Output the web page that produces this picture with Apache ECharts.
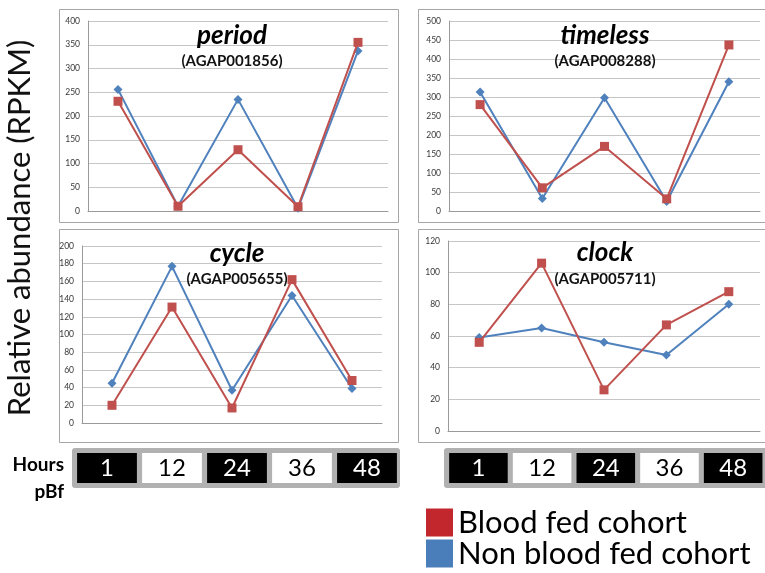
<!DOCTYPE html>
<html><head><meta charset="utf-8">
<script src="https://cdn.jsdelivr.net/npm/echarts@6/dist/echarts.min.js"></script>
<style>html,body{margin:0;padding:0;background:#fff}#c{width:765px;height:573px}</style>
</head><body><div id="c"></div>
<script>
// ---- data ----
const hours = ['1', '12', '24', '36', '48'];
const genes = ['period', 'timeless', 'cycle', 'clock'];
const geneIds = ['(AGAP001856)', '(AGAP008288)', '(AGAP005655)', '(AGAP005711)'];
const yMax = [400, 500, 200, 120];
const yStep = [50, 50, 20, 20];
const bloodFed_period = [231, 10, 129, 9, 355];
const nonFed_period = [256, 10, 235, 6, 337];
const bloodFed_timeless = [280, 61, 170, 32, 437];
const nonFed_timeless = [313, 33, 298, 25, 340];
const bloodFed_cycle = [20, 131, 17, 162, 48];
const nonFed_cycle = [45, 177, 37, 144, 39];
const bloodFed_clock = [56, 106, 26, 67, 88];
const nonFed_clock = [59, 65, 56, 48, 80];
const seriesNames = ['Blood fed cohort', 'Non blood fed cohort'];

const bloodFed = [bloodFed_period, bloodFed_timeless, bloodFed_cycle, bloodFed_clock];
const nonFed = [nonFed_period, nonFed_timeless, nonFed_cycle, nonFed_clock];

// ---- layout ----
const FONT = 'Lato';
const RED = '#c0504d', BLUE = '#4f81bd';
const plotGrids = [
  {left: 88, top: 21, width: 300, height: 190},
  {left: 449, top: 21, width: 311, height: 190},
  {left: 82, top: 246, width: 300, height: 177},
  {left: 448, top: 241, width: 312, height: 190}
];
const panels = [
  {x: 59.5, y: 9.5, w: 339, h: 213},
  {x: 418.5, y: 9.5, w: 360, h: 213},
  {x: 59.5, y: 229.5, w: 339, h: 213},
  {x: 418.5, y: 229.5, w: 360, h: 213}
];
const titlePos = [
  {x: 232, y1: 36, y2: 61},
  {x: 605, y1: 36, y2: 61},
  {x: 237, y1: 254, y2: 279},
  {x: 605, y1: 253, y2: 279}
];
const hourGrids = [
  {left: 74.5, top: 453, width: 325, height: 30},
  {left: 446.6, top: 453, width: 324, height: 30}
];
const hourBack = [
  {x: 72, y: 448, w: 328, h: 40},
  {x: 444, y: 448, w: 330, h: 40}
];

const grid = [], xAxis = [], yAxis = [], series = [], graphic = [];

genes.forEach((g, i) => {
  grid.push(plotGrids[i]);
  xAxis.push({
    type: 'category', gridIndex: i, data: hours, boundaryGap: true,
    axisLabel: {show: false}, axisTick: {show: false},
    axisLine: {lineStyle: {color: '#9a9a9a', width: 1}}
  });
  yAxis.push({
    type: 'value', gridIndex: i, min: 0, max: yMax[i], interval: yStep[i],
    axisLine: {show: true, lineStyle: {color: '#9a9a9a', width: 1}},
    axisTick: {show: false},
    axisLabel: {fontSize: 8.5, color: '#383838', fontFamily: FONT, margin: 8},
    splitLine: {lineStyle: {color: '#c6c6c6', width: 1}}
  });
  series.push({
    type: 'line', name: seriesNames[1], xAxisIndex: i, yAxisIndex: i,
    data: nonFed[i], symbol: 'diamond', symbolSize: 9,
    lineStyle: {color: BLUE, width: 2}, itemStyle: {color: BLUE},
    z: 2, animation: false
  });
  series.push({
    type: 'line', name: seriesNames[0], xAxisIndex: i, yAxisIndex: i,
    data: bloodFed[i], symbol: 'rect', symbolSize: 9,
    lineStyle: {color: RED, width: 2}, itemStyle: {color: RED},
    z: 3, animation: false
  });
  const p = panels[i];
  graphic.push({type: 'rect', shape: {x: p.x, y: p.y, width: p.w, height: p.h},
    style: {fill: 'none', stroke: '#a6a6a6', lineWidth: 1}, silent: true, z: 0});
  const t = titlePos[i];
  graphic.push({type: 'text', x: t.x, y: t.y1, z: 10,
    style: {text: g, fill: '#000', font: 'italic bold 26px ' + FONT, textAlign: 'center', textVerticalAlign: 'middle'}});
  graphic.push({type: 'text', x: t.x, y: t.y2, z: 10,
    style: {text: geneIds[i], fill: '#111', font: 'bold 15px ' + FONT, textAlign: 'center', textVerticalAlign: 'middle'}});
});

// hour bars
hourGrids.forEach((hg, k) => {
  const gi = grid.length;
  grid.push(hg);
  xAxis.push({type: 'category', gridIndex: gi, data: hours, show: false});
  yAxis.push({type: 'value', gridIndex: gi, min: 0, max: 1, show: false});
  series.push({
    type: 'bar', xAxisIndex: gi, yAxisIndex: gi, barCategoryGap: '8%', animation: false, silent: true,
    data: hours.map((h, j) => ({
      value: 1,
      itemStyle: {color: j % 2 ? '#ffffff' : '#000000'},
      label: {color: j % 2 ? '#000000' : '#ffffff'}
    })),
    label: {show: true, position: 'inside', fontSize: 24, fontFamily: FONT, formatter: (p) => hours[p.dataIndex]}
  });
  const b = hourBack[k];
  graphic.push({type: 'rect', shape: {x: b.x, y: b.y, width: b.w, height: b.h, r: 3},
    style: {fill: '#b1b1b1'}, silent: true, z: 0});
});

graphic.push({type: 'text', x: 64, y: 465, style: {text: 'Hours', font: 'bold 19px ' + FONT, fill: '#000', textAlign: 'right', textVerticalAlign: 'middle'}});
graphic.push({type: 'text', x: 64, y: 492, style: {text: 'pBf', font: 'bold 19px ' + FONT, fill: '#000', textAlign: 'right', textVerticalAlign: 'middle'}});
graphic.push({type: 'text', x: 20, y: 228, rotation: Math.PI / 2,
  style: {text: 'Relative abundance (RPKM)', font: '31px ' + FONT, fill: '#111', textAlign: 'center', textVerticalAlign: 'middle'}});

const chart = echarts.init(document.getElementById('c'), null, {renderer: 'canvas'});
chart.setOption({
  animation: false,
  backgroundColor: '#fff',
  grid, xAxis, yAxis, series, graphic,
  legend: {
    orient: 'vertical', left: 426, top: 507, itemWidth: 27, itemHeight: 28, itemGap: 0, padding: 0,
    textStyle: {fontSize: 31, color: '#000', fontFamily: FONT},
    selectedMode: false,
    data: [
      {name: seriesNames[0], icon: 'rect', itemStyle: {color: '#c1272d', borderWidth: 0}},
      {name: seriesNames[1], icon: 'rect', itemStyle: {color: '#4a7ebb', borderWidth: 0}}
    ]
  }
});
</script>
</body></html>
